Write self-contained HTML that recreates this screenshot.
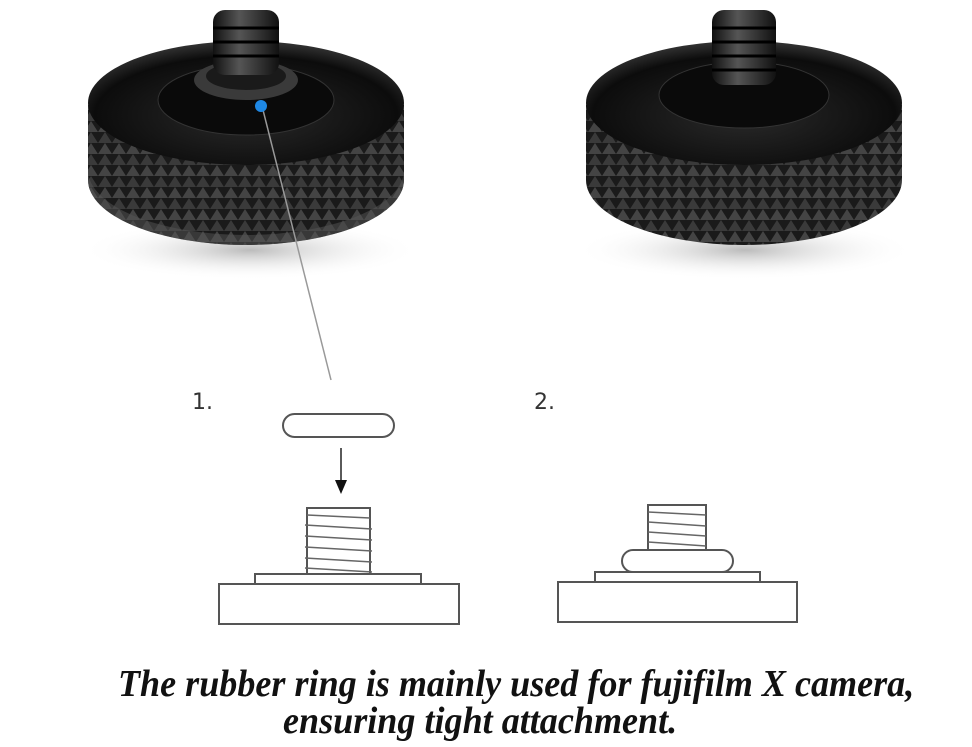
<!DOCTYPE html>
<html><head><style>
html,body{margin:0;padding:0;background:#fff;}
.wrap{position:relative;width:972px;height:747px;overflow:hidden;}
.t{position:absolute;white-space:nowrap;font-family:"Liberation Serif",serif;font-weight:bold;font-style:italic;font-size:38px;line-height:38px;color:#111;transform-origin:0 0;transform:scaleX(0.95);}
.n{position:absolute;font-family:"DejaVu Sans","Liberation Sans",sans-serif;font-size:22px;color:#333;}
</style></head><body><div class="wrap">
<svg width="972" height="747" style="position:absolute;left:0;top:0">
<defs>
<pattern id="kn" width="14" height="22" patternUnits="userSpaceOnUse">
<rect width="14" height="22" fill="#1a1a1a"/>
<polygon points="0,11 7,0 14,11" fill="#3a3a3a"/>
<polygon points="0,22 7,11 14,22" fill="#444"/>
</pattern>
<radialGradient id="top" cx="0.5" cy="0.6" r="0.6">
<stop offset="0" stop-color="#2a2a2a"/><stop offset="0.8" stop-color="#0c0c0c"/><stop offset="1" stop-color="#333"/>
</radialGradient>
<linearGradient id="scr" x1="0" x2="1">
<stop offset="0" stop-color="#111"/><stop offset="0.4" stop-color="#555"/><stop offset="1" stop-color="#111"/>
</linearGradient>
<radialGradient id="sh" cx="0.5" cy="0.5" r="0.5"><stop offset="0" stop-color="#bbb"/><stop offset="1" stop-color="#fff" stop-opacity="0"/></radialGradient>
</defs>
<ellipse cx="250" cy="250" rx="170" ry="30" fill="url(#sh)"/>
<path d="M88 105 L88 180 A158 65 0 0 0 404 180 L404 105 Z" fill="url(#kn)"/>
<path d="M88 170 A158 65 0 0 0 404 170 L404 180 A158 65 0 0 1 88 180Z" fill="#555" opacity="0.5"/>
<ellipse cx="246" cy="103" rx="158" ry="62" fill="url(#top)"/>
<ellipse cx="246" cy="100" rx="88" ry="35" fill="#0a0a0a" stroke="#333"/>
<ellipse cx="246" cy="80" rx="52" ry="20" fill="#3a3a3a"/>
<ellipse cx="246" cy="76" rx="40" ry="14" fill="#1a1a1a"/>
<rect x="213" y="10" width="66" height="65" rx="12" fill="url(#scr)"/>
<g stroke="#000" stroke-width="3"><line x1="213" y1="28" x2="279" y2="28"/><line x1="213" y1="42" x2="279" y2="42"/><line x1="213" y1="56" x2="279" y2="56"/></g>
<ellipse cx="745" cy="250" rx="170" ry="30" fill="url(#sh)"/>
<path d="M586 105 L586 180 A158 65 0 0 0 902 180 L902 105 Z" fill="url(#kn)"/>
<ellipse cx="744" cy="103" rx="158" ry="62" fill="url(#top)"/>
<ellipse cx="744" cy="95" rx="85" ry="33" fill="#0a0a0a" stroke="#333"/>
<rect x="712" y="10" width="64" height="75" rx="12" fill="url(#scr)"/>
<g stroke="#000" stroke-width="3"><line x1="712" y1="28" x2="776" y2="28"/><line x1="712" y1="42" x2="776" y2="42"/><line x1="712" y1="56" x2="776" y2="56"/><line x1="712" y1="70" x2="776" y2="70"/></g>
<line x1="262" y1="106" x2="331" y2="380" stroke="#999" stroke-width="1.5"/>
<circle cx="261" cy="106" r="6" fill="#1e88e5"/>
<g fill="#fff" stroke="#555" stroke-width="2">
<rect x="283" y="414" width="111" height="23" rx="11.5"/>
<rect x="219" y="584" width="240" height="40"/>
<rect x="255" y="574" width="166" height="10"/>
<rect x="307" y="508" width="63" height="66"/>
<rect x="558" y="582" width="239" height="40"/>
<rect x="595" y="572" width="165" height="10"/>
<rect x="648" y="505" width="58" height="46"/>
<rect x="622" y="550" width="111" height="22" rx="11"/>
</g>
<g stroke="#666" stroke-width="1.5">
<line x1="307" y1="515" x2="370" y2="518"/><line x1="305" y1="525" x2="372" y2="529"/><line x1="305" y1="536" x2="372" y2="540"/><line x1="305" y1="547" x2="372" y2="551"/><line x1="305" y1="558" x2="372" y2="562"/><line x1="305" y1="568" x2="372" y2="572"/>
<line x1="648" y1="512" x2="706" y2="515"/><line x1="648" y1="522" x2="706" y2="526"/><line x1="648" y1="532" x2="706" y2="536"/><line x1="648" y1="542" x2="706" y2="546"/>
</g>
<line x1="341" y1="448" x2="341" y2="484" stroke="#222" stroke-width="1.5"/>
<polygon points="335,480 347,480 341,494" fill="#111"/>
</svg>
<div class="n" style="left:192px;top:390px">1.</div>
<div class="n" style="left:534px;top:390px">2.</div>
<div class="t" style="left:118px;top:665px">The rubber ring is mainly used for fujifilm X camera,</div>
<div class="t" style="left:283px;top:702px">ensuring tight attachment.</div>
</div></body></html>
